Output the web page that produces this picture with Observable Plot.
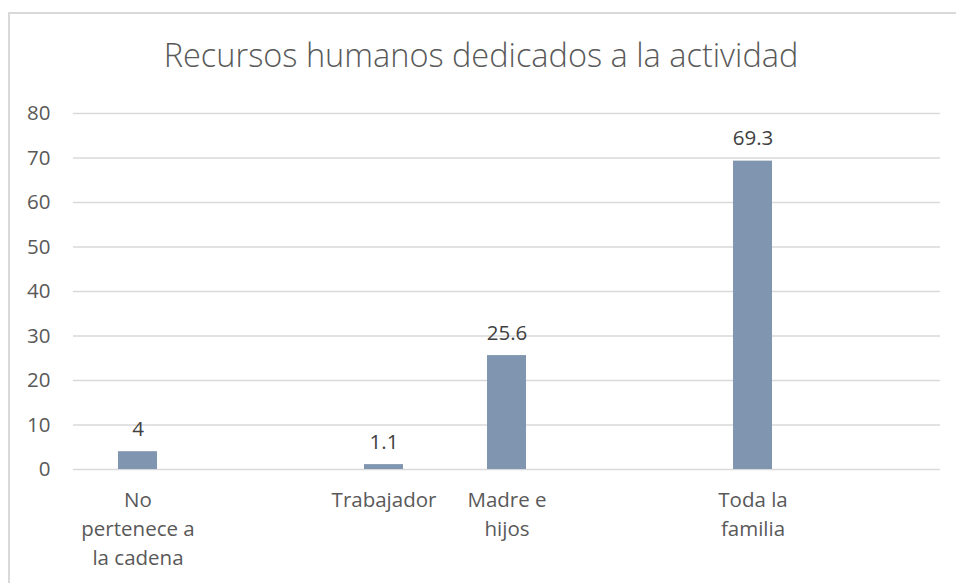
<!DOCTYPE html>
<html>
<head>
<meta charset="utf-8">
<script src="https://cdn.jsdelivr.net/npm/d3@7"></script>
<script src="https://cdn.jsdelivr.net/npm/@observablehq/plot@0.6"></script>
<style>
  html, body { margin: 0; padding: 0; background: #fff; overflow: hidden; width: 956px; height: 583px; }
  #frame { position: absolute; left: 8px; top: 12px; width: 1000px; height: 700px;
           border-top: 2px solid #d9d9d9; border-left: 2px solid #d9d9d9; box-sizing: border-box; }
  #title { position: absolute; left: 0; top: 33px; width: 962px; text-align: center; line-height: 44px;
           font-family: "Open Sans", sans-serif; font-weight: 300; font-size: 32.5px; color: #595959; }
  #chart { position: absolute; left: 0; top: 90px; }
</style>
</head>
<body>
<div id="frame"></div>
<div id="title">Recursos humanos dedicados a la actividad</div>
<div id="chart"></div>
<script>
const categories = ["No\npertenece a\nla cadena", "", "Trabajador", "Madre e\nhijos", "", "Toda la\nfamilia", ""];
const values = [4, null, 1.1, 25.6, null, 69.3, null];
const yTicks = [0, 10, 20, 30, 40, 50, 60, 70, 80];

const data = categories.map((c, i) => ({i, label: c, value: values[i]})).filter(d => d.value != null);

const chart = Plot.plot({
  width: 956,
  height: 493,
  marginLeft: 73,
  marginRight: 16,
  marginTop: 23,
  marginBottom: 114,
  style: {fontFamily: "Open Sans, sans-serif", fontSize: "20.5px", color: "#595959", background: "transparent"},
  x: {type: "band", domain: d3.range(categories.length), paddingInner: 0.685, paddingOuter: 0.3425},
  y: {domain: [0, 80]},
  marks: [
    Plot.ruleY(yTicks, {stroke: "#d9d9d9", strokeWidth: 1.6}),
    Plot.barY(data, {x: "i", y: "value", fill: "#8096B0"}),
    Plot.text(data, {x: "i", y: "value", text: d => String(d.value), lineAnchor: "bottom", dy: -16, fill: "#404040", fontSize: 20.5}),
    Plot.axisY({ticks: yTicks, tickSize: 0, tickPadding: 23, fill: "#595959", fontSize: 20.5, label: null}),
    Plot.axisX({tickSize: 0, tickPadding: 17, tickFormat: i => categories[i], lineHeight: 1.42, fill: "#595959", fontSize: 20.5, label: null})
  ]
});
document.getElementById("chart").appendChild(chart);
</script>
</body>
</html>
